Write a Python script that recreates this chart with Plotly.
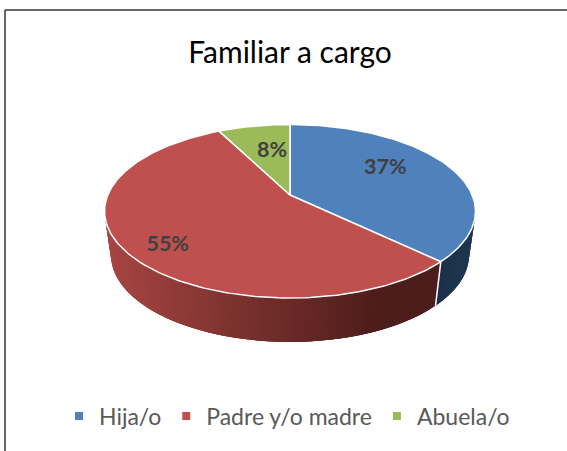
import math
import plotly.graph_objects as go

categories = ["Hija/o", "Padre y/o madre", "Abuela/o"]
values = [37.2, 55.3, 7.5]
colors = ["#4F81BD", "#C0504D", "#9BBB59"]
label_nudge = [(-1, -8), (1, 9), (5, 1)]
label_radius = [0.6, 0.77, 0.6]

W, H = 567, 451
CX, CY = 290.0, 195.0
B, A, K = 182.2, 83.7, 0.187
DEPTH, BOTTOM_SCALE = 44.0, 0.965


def project(theta, r=1.0, bottom=False):
    u, v = r * math.sin(theta), -r * math.cos(theta)
    d = 1 - K * v
    x, y = B * u / d, A * v / d
    if bottom:
        return CX + x * BOTTOM_SCALE, CY + y + DEPTH
    return CX + x, CY + y


def lerp_hex(a, b, t):
    t = max(0, min(1, t))
    ca = [int(a[i:i + 2], 16) for i in (1, 3, 5)]
    cb = [int(b[i:i + 2], 16) for i in (1, 3, 5)]
    return "#" + "".join(f"{round(p + (q - p) * t):02x}" for p, q in zip(ca, cb))


def wall_color(i, x):
    if i == 0:
        return lerp_hex("#1B3047", "#1F3752", (x - 440) / 35)
    if i == 1:
        return lerp_hex("#A64541", "#4D1D1B", (x - 107) / 270)
    return "#5d7035"


fig = go.Figure()
total = sum(values)
edges = [0.0]
for v in values:
    edges.append(edges[-1] + v / total * 2 * math.pi)

# visible wall: from the right-most to the left-most point of the rim.
# Segments overlap one another so that no seams show.
T0 = math.pi - math.asin(math.sqrt(1 - K * K))
T1 = 2 * math.pi - T0
STEP = math.radians(1.5)
for i in range(len(values)):
    a0, a1 = max(edges[i], T0), min(edges[i + 1], T1)
    if a1 <= a0:
        continue
    n = max(1, int((a1 - a0) / STEP))
    for j in range(n):
        s = a0 + (a1 - a0) * j / n
        e = min(a1, s + 3 * (a1 - a0) / n)
        mid = project(s + (a1 - a0) / (2 * n))
        arc = [s + (e - s) * t / 4 for t in range(5)]
        p = [project(t) for t in arc] + [project(t, bottom=True) for t in reversed(arc)]
        p.append(p[0])
        col = wall_color(i, mid[0])
        fig.add_trace(go.Scatter(
            x=[q[0] for q in p], y=[q[1] for q in p],
            mode="lines", fill="toself", fillcolor=col, line=dict(width=0),
            hoverinfo="skip", showlegend=False))

# white separator on the wall between slices
for ed in edges[1:-1]:
    if T0 <= ed <= T1:
        p, q = project(ed), project(ed, bottom=True)
        fig.add_trace(go.Scatter(x=[p[0], q[0]], y=[p[1], q[1]], mode="lines",
                                 line=dict(color="white", width=1.5),
                                 hoverinfo="skip", showlegend=False))

# top faces
for i in range(len(values)):
    n = max(8, int((edges[i + 1] - edges[i]) / math.radians(1)))
    pts = [(CX, CY)] + [project(edges[i] + (edges[i + 1] - edges[i]) * j / n) for j in range(n + 1)] + [(CX, CY)]
    fig.add_trace(go.Scatter(x=[q[0] for q in pts], y=[q[1] for q in pts], mode="lines",
                             fill="toself", fillcolor=colors[i],
                             line=dict(color="white", width=1.5),
                             hoverinfo="skip", showlegend=False))

# data labels
lx, ly, lt = [], [], []
for i, v in enumerate(values):
    x, y = project((edges[i] + edges[i + 1]) / 2, label_radius[i])
    lx.append(x + label_nudge[i][0])
    ly.append(y + label_nudge[i][1])
    lt.append(f"<b>{round(v + 1e-9)}%</b>")
fig.add_trace(go.Scatter(x=lx, y=ly, text=lt, mode="text", textposition="middle center",
                         textfont=dict(family="Lato", size=21.5, color="#404040"),
                         hoverinfo="skip", showlegend=False))

# legend entries
for name, col in zip(categories, colors):
    fig.add_trace(go.Scatter(x=[None], y=[None], mode="markers", name=name,
                             marker=dict(symbol="square", size=8, color=col)))

fig.update_layout(
    width=W, height=H, margin=dict(l=0, r=0, t=0, b=0),
    paper_bgcolor="white", plot_bgcolor="white",
    xaxis=dict(range=[0, W], visible=False, fixedrange=True),
    yaxis=dict(range=[H, 0], visible=False, fixedrange=True),
    title=dict(text="Familiar a cargo", x=290 / W, xanchor="center", y=1 - 52 / H, yanchor="middle",
               font=dict(family="Lato", size=30, color="#000000")),
    legend=dict(orientation="h", x=287 / W, xanchor="center", y=1 - 416 / H, yanchor="middle",
                font=dict(family="Lato", size=23, color="#595959"), itemwidth=30,
                bgcolor="rgba(0,0,0,0)"),
    shapes=[dict(type="line", xref="x", yref="y", x0=5, y0=451, x1=5, y1=10, line=dict(color="#333333", width=1.5)),
            dict(type="line", xref="x", yref="y", x0=5, y0=10, x1=567, y1=10, line=dict(color="#333333", width=1.5))],
)
fig.write_html("out.html", config=dict(displayModeBar=False),
               post_script="document.body.style.margin='0';")
